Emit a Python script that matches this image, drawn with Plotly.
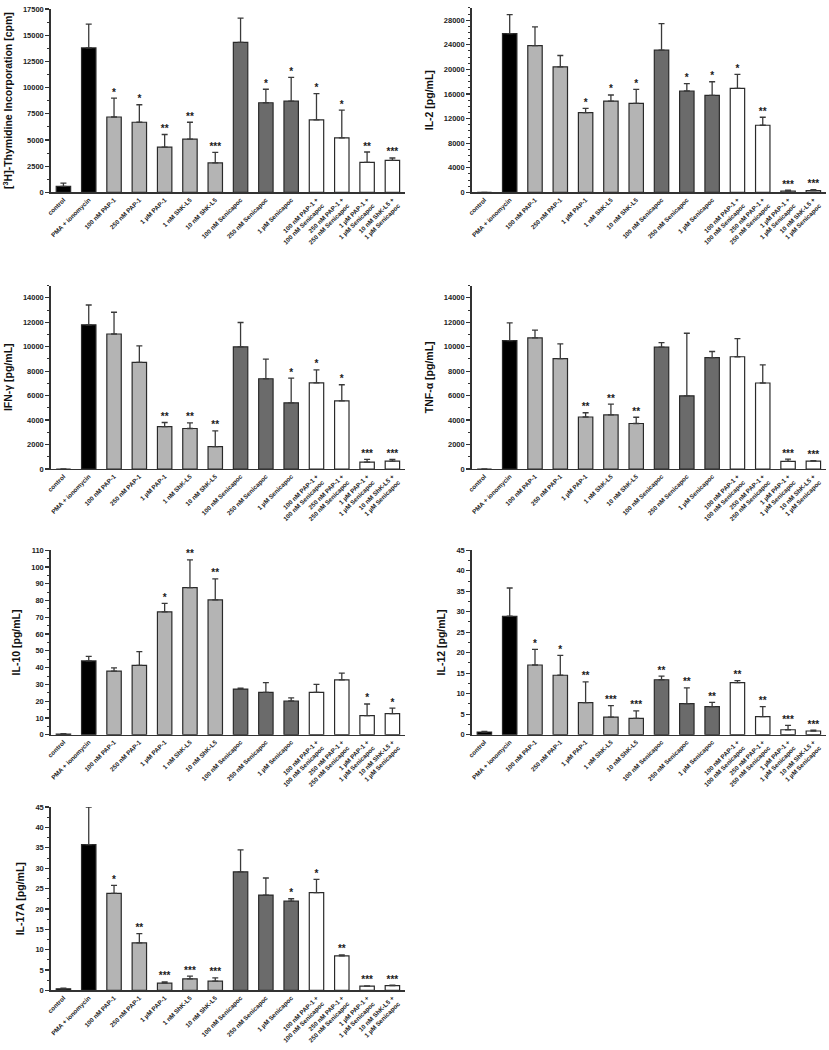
import plotly.graph_objects as go

categories = [
    "control", "PMA + ionomycin", "100 nM PAP-1", "250 nM PAP-1", "1 µM PAP-1",
    "1 nM ShK-L5", "10 nM ShK-L5", "100 nM Senicapoc", "250 nM Senicapoc",
    "1 µM Senicapoc", "100 nM PAP-1 +<br>100 nM Senicapoc",
    "250 nM PAP-1 +<br>250 nM Senicapoc", "1 µM PAP-1 +<br>1 µM Senicapoc",
    "10 nM ShK-L5 +<br>1 µM Senicapoc",
]
bar_colors = ["#000000", "#000000"] + ["#b4b4b4"] * 5 + ["#6b6b6b"] * 3 + ["#ffffff"] * 4

thymidine_mean = [570, 13780, 7190, 6690, 4320, 5080, 2810, 14320, 8550, 8700, 6910, 5200, 2870, 3060]
thymidine_err = [310, 2270, 1800, 1670, 1200, 1610, 1010, 2300, 1290, 2270, 2520, 2650, 980, 220]
thymidine_sig = ["", "", "*", "*", "**", "**", "***", "", "*", "*", "*", "*", "**", "***"]

il2_mean = [0, 25840, 23890, 20430, 12970, 14860, 14490, 23140, 16490, 15780, 16920, 10920, 220, 270]
il2_err = [0, 3080, 3030, 1840, 710, 980, 2270, 4320, 1190, 2220, 2270, 1300, 160, 160]
il2_sig = ["", "", "", "", "*", "*", "*", "", "*", "*", "*", "**", "***", "***"]

ifng_mean = [0, 11790, 11040, 8720, 3470, 3310, 1830, 9990, 7380, 5410, 7050, 5570, 565, 646]
ifng_err = [0, 1620, 1780, 1350, 330, 460, 1290, 1990, 1610, 2020, 1050, 1320, 215, 134]
ifng_sig = ["", "", "", "", "**", "**", "**", "", "", "*", "*", "*", "***", "***"]

tnfa_mean = [0, 10500, 10720, 9020, 4250, 4420, 3720, 9960, 5980, 9100, 9180, 7030, 620, 646]
tnfa_err = [0, 1450, 640, 1210, 350, 880, 510, 380, 5120, 510, 1480, 1480, 190, 30]
tnfa_sig = ["", "", "", "", "**", "**", "**", "", "", "", "", "", "***", "***"]

il10_mean = [0.4, 44.0, 37.9, 41.4, 73.3, 87.7, 80.4, 27.2, 25.2, 20.1, 25.2, 32.7, 11.4, 12.6]
il10_err = [0.2, 2.7, 1.9, 8.1, 5.0, 16.6, 12.6, 0.5, 5.9, 1.8, 4.8, 4.0, 6.9, 3.2]
il10_sig = ["", "", "", "", "*", "**", "**", "", "", "", "", "", "*", "*"]

il12_mean = [0.65, 28.9, 17.0, 14.5, 7.8, 4.3, 4.0, 13.4, 7.6, 6.85, 12.7, 4.4, 1.2, 0.9]
il12_err = [0.15, 6.9, 3.8, 4.85, 5.1, 2.8, 1.8, 0.9, 3.8, 1.05, 0.5, 2.45, 1.05, 0.2]
il12_sig = ["", "", "*", "*", "**", "***", "***", "**", "**", "**", "**", "**", "***", "***"]

il17a_mean = [0.4, 35.8, 23.8, 11.7, 1.8, 2.85, 2.27, 29.1, 23.4, 21.9, 24.0, 8.5, 1.05, 1.2]
il17a_err = [0.15, 9.2, 2.0, 2.25, 0.3, 0.65, 0.8, 5.4, 4.2, 0.6, 3.25, 0.2, 0.1, 0.1]
il17a_sig = ["", "", "*", "**", "***", "***", "***", "", "", "*", "*", "**", "***", "***"]

panels = [
    dict(mean=thymidine_mean, err=thymidine_err, sig=thymidine_sig,
         title="[<sup>3</sup>H]-Thymidine Incorporation [cpm]", ymax=17500, dtick=2500),
    dict(mean=il2_mean, err=il2_err, sig=il2_sig, title="IL-2 [pg/mL]", ymax=30000, dtick=4000),
    dict(mean=ifng_mean, err=ifng_err, sig=ifng_sig, title="IFN-γ [pg/mL]", ymax=15000, dtick=2000),
    dict(mean=tnfa_mean, err=tnfa_err, sig=tnfa_sig, title="TNF-α [pg/mL]", ymax=15000, dtick=2000),
    dict(mean=il10_mean, err=il10_err, sig=il10_sig, title="IL-10 [pg/mL]", ymax=110, dtick=10),
    dict(mean=il12_mean, err=il12_err, sig=il12_sig, title="IL-12 [pg/mL]", ymax=45, dtick=5),
    dict(mean=il17a_mean, err=il17a_err, sig=il17a_sig, title="IL-17A [pg/mL]", ymax=45, dtick=5),
]

# pixel boxes (x0, x1, ytop, ybottom) of each plot area
W, H = 829, 1050
boxes = [
    (47, 403, 5, 190),
    (470, 826, 4, 190),
    (47, 403, 284, 469),
    (470, 826, 284, 469),
    (47, 403, 551, 737),
    (470, 826, 551, 737),
    (47, 403, 810, 995),
]
minor_dt = [1250, 1000, 1000, 1000, 5, 2.5, 2.5]

FONT = "Liberation Sans, Arial, sans-serif"
AX = "#333333"

fig = go.Figure()
layout = dict(width=W, height=H, margin=dict(l=0, r=0, t=0, b=0),
              paper_bgcolor="white", plot_bgcolor="white", showlegend=False,
              font=dict(family=FONT, color="#222222"), bargap=0.43)

for i, (p, b) in enumerate(zip(panels, boxes)):
    n = i + 1
    xa = "x" if n == 1 else f"x{n}"
    ya = "y" if n == 1 else f"y{n}"
    fig.add_trace(go.Bar(
        x=categories, y=p["mean"], xaxis=xa, yaxis=ya,
        marker=dict(color=bar_colors, line=dict(color="#2a2a2a", width=1.2)),
        error_y=dict(type="data", symmetric=False, array=p["err"],
                     arrayminus=[0] * len(p["err"]), color="#3a3a3a",
                     thickness=1.3, width=3),
    ))
    fig.add_trace(go.Scatter(
        x=categories, y=[m + e for m, e in zip(p["mean"], p["err"])],
        xaxis=xa, yaxis=ya, mode="text", text=p["sig"],
        textposition="top center",
        textfont=dict(family=FONT, size=10, color="#1a1a1a", weight="bold"),
        hoverinfo="skip", cliponaxis=False,
    ))
    x0, x1, yt, yb = b
    layout["xaxis" if n == 1 else f"xaxis{n}"] = dict(
        domain=[x0 / W, x1 / W], anchor=ya, type="category",
        range=[-0.5, 13.5], showline=True, linecolor=AX, linewidth=1.5,
        ticks="", tickangle=-45, showgrid=False, zeroline=False,
        tickfont=dict(family=FONT, size=6.3, color="#222222", weight="bold"),
    )
    layout["yaxis" if n == 1 else f"yaxis{n}"] = dict(
        domain=[1 - yb / H, 1 - yt / H], anchor=xa,
        range=[0, p["ymax"]], dtick=p["dtick"], tickformat="d",
        showline=True, linecolor=AX,
        linewidth=1.5, ticks="outside", ticklen=4, tickwidth=1.2, tickcolor=AX,
        showgrid=False, zeroline=False,
        minor=dict(dtick=minor_dt[i], ticks="outside", ticklen=2, tickcolor=AX, tickwidth=1),
        tickfont=dict(family=FONT, size=7.5, color="#222222", weight="bold"),
        title=dict(text=p["title"], standoff=8,
                   font=dict(family=FONT, size=10.5, color="#111111", weight="bold")),
    )

fig.update_layout(**layout)
fig.write_html(
    "out.html",
    config={"displayModeBar": False, "staticPlot": True},
    post_script="document.body.style.margin='0';document.body.style.padding='0';"
                "document.body.style.overflow='hidden';",
)
